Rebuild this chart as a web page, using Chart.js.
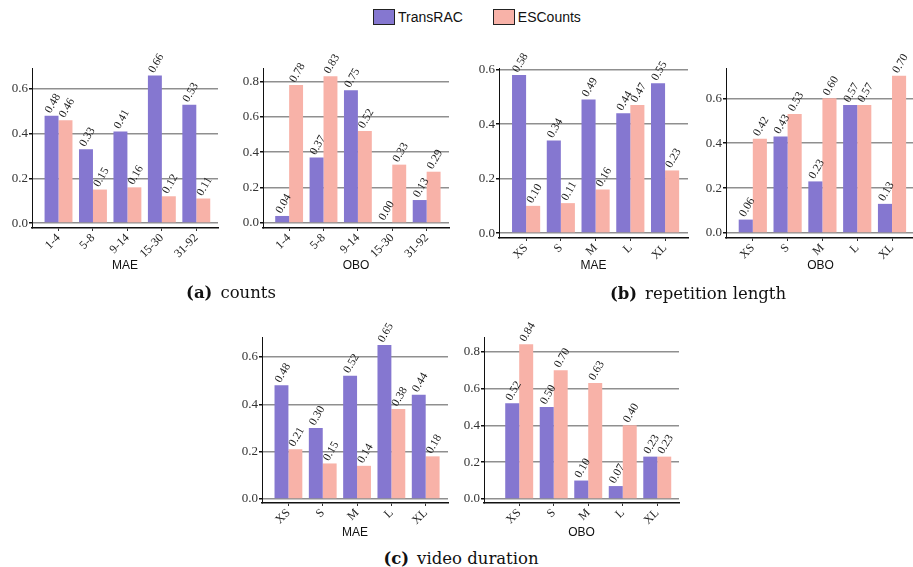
<!DOCTYPE html>
<html>
<head>
<meta charset="utf-8">
<script src="https://cdn.jsdelivr.net/npm/chart.js@4.4.1/dist/chart.umd.min.js"></script>
<style>
  body { margin: 0; background: #fff; width: 913px; height: 567px; position: relative; overflow: hidden; font-family: "Liberation Sans", Arial, sans-serif; }
  canvas { position: absolute; }
  .legend { position: absolute; top: 9px; left: 373px; display: flex; align-items: center; font-size: 14px; color: #111; }
  .legend .sw { width: 22px; height: 16px; border: 1px solid #222; box-sizing: border-box; margin-right: 3px; }
  .legend .item { display: flex; align-items: center; margin-right: 30px; }
  .caption { position: absolute; font-family: "DejaVu Serif", serif; font-size: 16.5px; color: #111; white-space: nowrap; transform: translate(-50%, -50%); }
  .caption b { margin-right: 8px; }
</style>
</head>
<body>
<div class="legend">
  <div class="item"><div class="sw" style="background:#8577d0"></div>TransRAC</div>
  <div class="item"><div class="sw" style="background:#f8b2a8"></div>ESCounts</div>
</div>

<canvas id="countsMae"></canvas>
<canvas id="countsObo"></canvas>
<canvas id="lengthMae"></canvas>
<canvas id="lengthObo"></canvas>
<canvas id="durationMae"></canvas>
<canvas id="durationObo"></canvas>

<div class="caption" style="left:231px;top:292px"><b>(a)</b>counts</div>
<div class="caption" style="left:698px;top:293px"><b>(b)</b>repetition length</div>
<div class="caption" style="left:461px;top:558px"><b>(c)</b>video duration</div>

<script>
const countBins = ['1-4', '5-8', '9-14', '15-30', '31-92'];
const sizeBins = ['XS', 'S', 'M', 'L', 'XL'];

const maeTicks = [0, 0.2, 0.4, 0.6];
const oboTicks = [0, 0.2, 0.4, 0.6, 0.8];

// (a) counts
const countsMaeTransRAC = [0.48, 0.33, 0.41, 0.66, 0.53];
const countsMaeESCounts = [0.46, 0.15, 0.16, 0.12, 0.11];
const countsOboTransRAC = [0.04, 0.37, 0.75, 0.00, 0.13];
const countsOboESCounts = [0.78, 0.83, 0.52, 0.33, 0.29];

// (b) repetition length
const lengthMaeTransRAC = [0.58, 0.34, 0.49, 0.44, 0.55];
const lengthMaeESCounts = [0.10, 0.11, 0.16, 0.47, 0.23];
const lengthOboTransRAC = [0.06, 0.43, 0.23, 0.57, 0.13];
const lengthOboESCounts = [0.42, 0.53, 0.60, 0.57, 0.70];

// (c) video duration
const durationMaeTransRAC = [0.48, 0.30, 0.52, 0.65, 0.44];
const durationMaeESCounts = [0.21, 0.15, 0.14, 0.38, 0.18];
const durationOboTransRAC = [0.52, 0.50, 0.10, 0.07, 0.23];
const durationOboESCounts = [0.84, 0.70, 0.63, 0.40, 0.23];

const PURPLE = '#8577d0';
const PINK = '#f8b2a8';
const SERIF = '"Liberation Serif", "Times New Roman", serif';
const SANS = '"Liberation Sans", Arial, sans-serif';
const YW = 30;   // y scale width
const PT = 40;   // room above the plot for the value labels
const PR = 16;

// rotated value labels above each bar
const barLabels = {
  id: 'barLabels',
  afterDatasetsDraw(chart) {
    const ctx = chart.ctx;
    ctx.save();
    ctx.font = '11.5px ' + SERIF;
    ctx.fillStyle = '#1a1a1a';
    ctx.textAlign = 'left';
    ctx.textBaseline = 'alphabetic';
    chart.data.datasets.forEach((ds, di) => {
      chart.getDatasetMeta(di).data.forEach((bar, i) => {
        ctx.save();
        ctx.translate(bar.x - 1, bar.y - 2);
        ctx.rotate(-Math.PI / 3);
        ctx.fillText(ds.data[i].y.toFixed(2), 0, 0);
        ctx.restore();
      });
    });
    ctx.restore();
  },
};

const renderPanel = (id, { labels, transrac, escounts, yTicks, yMin, yMax, xMin, xMax, title, box, xh }) => {
  const canvas = document.getElementById(id);
  canvas.width = YW + (box.R - box.L) + PR;
  canvas.height = PT + (box.B - box.T) + xh;
  canvas.style.left = (box.L - YW) + 'px';
  canvas.style.top = (box.T - PT) + 'px';

  new Chart(canvas, {
    type: 'bar',
    data: {
      labels: labels,
      datasets: [
        {
          label: 'TransRAC',
          data: transrac.map((v, i) => ({ x: i, y: v })),
          backgroundColor: PURPLE,
        },
        {
          label: 'ESCounts',
          data: escounts.map((v, i) => ({ x: i, y: v })),
          backgroundColor: PINK,
        },
      ],
    },
    options: {
      responsive: false,
      animation: false,
      devicePixelRatio: 1,
      layout: { padding: { top: PT, right: PR, left: 0, bottom: 0 } },
      plugins: { legend: { display: false }, tooltip: { enabled: false } },
      datasets: { bar: { categoryPercentage: 0.81, barPercentage: 1 } },
      scales: {
        x: {
          type: 'linear',
          min: xMin,
          max: xMax,
          offset: false,
          afterBuildTicks: (s) => { s.ticks = labels.map((_, i) => ({ value: i })); },
          afterFit: (s) => { s.height = xh; },
          ticks: {
            callback: (v) => labels[v],
            minRotation: 45,
            maxRotation: 45,
            autoSkip: false,
            padding: 0,
            color: '#222',
            font: { family: SERIF, size: 12 },
          },
          grid: { offset: false, drawOnChartArea: false, tickLength: 3, tickColor: '#333' },
          border: { display: true, color: '#111', width: 1.6 },
          title: { display: true, text: title, padding: 0, color: '#111', font: { family: SANS, size: 12 } },
        },
        y: {
          min: yMin,
          max: yMax,
          afterBuildTicks: (s) => { s.ticks = yTicks.map((v) => ({ value: v })); },
          afterFit: (s) => { s.width = YW; },
          ticks: {
            callback: (v) => v.toFixed(1),
            padding: 1,
            color: '#333',
            font: { family: SERIF, size: 13 },
          },
          grid: { color: '#8f8f8f', lineWidth: 1.5, tickLength: 3, tickColor: '#111' },
          border: { display: true, color: '#111', width: 1 },
        },
      },
    },
    plugins: [barLabels],
  });
};

renderPanel('countsMae', {
  labels: countBins, transrac: countsMaeTransRAC, escounts: countsMaeESCounts,
  yTicks: maeTicks, yMin: -0.022, yMax: 0.694, xMin: -0.77, xMax: 4.63, title: 'MAE',
  box: { L: 32, R: 218, T: 68, B: 228 }, xh: 45,
});
renderPanel('countsObo', {
  labels: countBins, transrac: countsOboTransRAC, escounts: countsOboESCounts,
  yTicks: oboTicks, yMin: -0.028, yMax: 0.876, xMin: -0.76, xMax: 4.65, title: 'OBO',
  box: { L: 263, R: 449, T: 68, B: 228 }, xh: 45,
});
renderPanel('lengthMae', {
  labels: sizeBins, transrac: lengthMaeTransRAC, escounts: lengthMaeESCounts,
  yTicks: maeTicks, yMin: -0.018, yMax: 0.606, xMin: -0.78, xMax: 4.66, title: 'MAE',
  box: { L: 499, R: 688, T: 68, B: 238 }, xh: 35,
});
renderPanel('lengthObo', {
  labels: sizeBins, transrac: lengthOboTransRAC, escounts: lengthOboESCounts,
  yTicks: maeTicks, yMin: -0.022, yMax: 0.735, xMin: -0.77, xMax: 4.66, title: 'OBO',
  box: { L: 726, R: 915, T: 68, B: 238 }, xh: 35,
});
renderPanel('durationMae', {
  labels: sizeBins, transrac: durationMaeTransRAC, escounts: durationMaeESCounts,
  yTicks: maeTicks, yMin: -0.017, yMax: 0.684, xMin: -0.77, xMax: 4.65, title: 'MAE',
  box: { L: 262, R: 448, T: 337, B: 503 }, xh: 37,
});
renderPanel('durationObo', {
  labels: sizeBins, transrac: durationOboTransRAC, escounts: durationOboESCounts,
  yTicks: oboTicks, yMin: -0.022, yMax: 0.88, xMin: -1.02, xMax: 4.63, title: 'OBO',
  box: { L: 484, R: 679, T: 337, B: 503 }, xh: 37,
});
</script>
</body>
</html>
